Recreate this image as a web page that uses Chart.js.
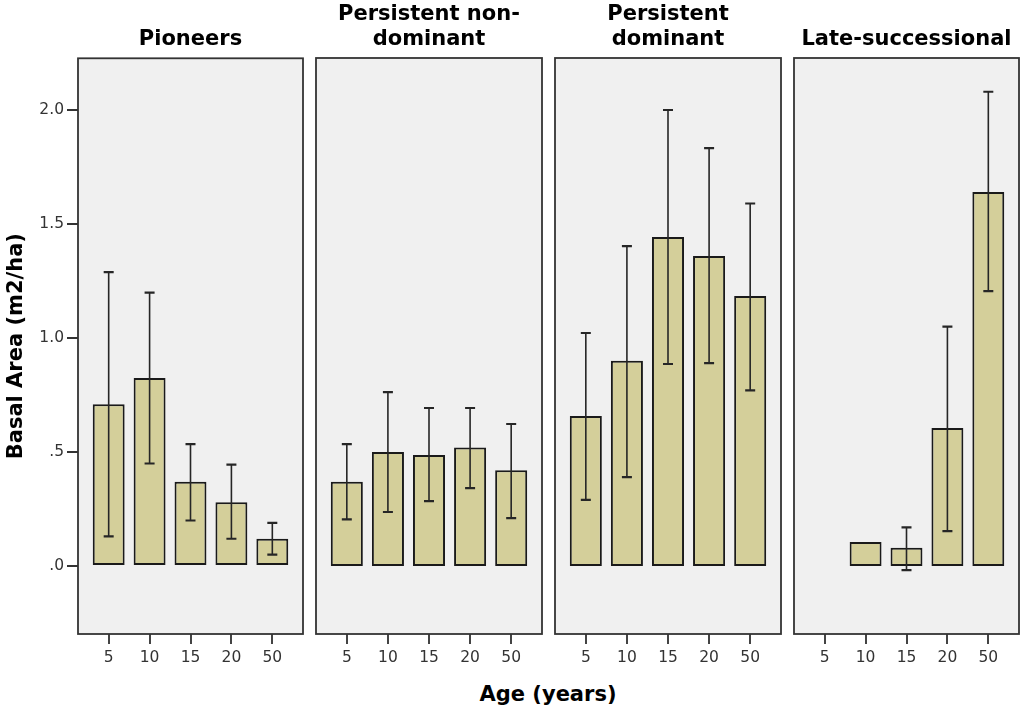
<!DOCTYPE html>
<html>
<head>
<meta charset="utf-8">
<script src="https://cdn.jsdelivr.net/npm/chart.js@4.4.1/dist/chart.umd.min.js"></script>
<style>
  body { margin: 0; background: #fff; width: 1024px; height: 707px; overflow: hidden; position: relative; }
  canvas { position: absolute; top: 46px; }
  .ptitle {
    position: absolute; top: 0; height: 51px;
    display: flex; align-items: flex-end; justify-content: center;
    text-align: center; font: bold 21px "DejaVu Sans", sans-serif; line-height: 25px; color: #000;
  }
  #xtitle {
    position: absolute; top: 682px; left: 448px; width: 200px; text-align: center;
    font: bold 21px "DejaVu Sans", sans-serif; line-height: 25px; color: #000;
  }
</style>
</head>
<body>
<div id="xtitle">Age (years)</div>
<script>
// ---- data ----
const ages = ['5', '10', '15', '20', '50'];
const panelTitles = [['Pioneers'], ['Persistent non-', 'dominant'], ['Persistent', 'dominant'], ['Late-successional']];

const pioneersMean = [0.71, 0.825, 0.37, 0.28, 0.12];
const pioneersLo   = [0.13, 0.45, 0.20, 0.12, 0.05];
const pioneersHi   = [1.29, 1.20, 0.535, 0.445, 0.19];

const nonDomMean = [0.37, 0.50, 0.487, 0.52, 0.42];
const nonDomLo   = [0.205, 0.237, 0.285, 0.342, 0.21];
const nonDomHi   = [0.535, 0.763, 0.693, 0.693, 0.623];

const domMean = [0.658, 0.90, 1.443, 1.36, 1.184];
const domLo   = [0.29, 0.39, 0.886, 0.89, 0.77];
const domHi   = [1.022, 1.403, 2.00, 1.833, 1.59];

const lateMean = [null, 0.105, 0.08, 0.605, 1.64];
const lateLo   = [null, null, -0.018, 0.153, 1.206];
const lateHi   = [null, null, 0.17, 1.05, 2.08];

const yTicks = [0, 0.5, 1.0, 1.5, 2.0];
const yTickLabels = ['.0', '.5', '1.0', '1.5', '2.0'];

// ---- layout (pixel frames of the four panels) ----
const frames = [[78, 303], [316, 542], [555, 781], [794, 1019]];
const series = [
  [pioneersMean, pioneersLo, pioneersHi],
  [nonDomMean, nonDomLo, nonDomHi],
  [domMean, domLo, domHi],
  [lateMean, lateLo, lateHi],
];

// grey panel with a dark frame
const panelFrame = {
  id: 'panelFrame',
  beforeDraw(chart) {
    const { ctx, chartArea: a } = chart;
    ctx.save();
    ctx.fillStyle = '#f0f0f0';
    ctx.fillRect(a.left, a.top, a.right - a.left, a.bottom - a.top);
    ctx.restore();
  },
  afterDraw(chart) {
    const { ctx, chartArea: a } = chart;
    ctx.save();
    ctx.strokeStyle = '#333';
    ctx.lineWidth = 1.8;
    ctx.strokeRect(a.left, a.top, a.right - a.left, a.bottom - a.top);
    ctx.restore();
  },
};

// whiskers drawn over the bars
const errorBars = {
  id: 'errorBars',
  afterDatasetsDraw(chart, args, opts) {
    const { ctx } = chart;
    const y = chart.scales.y;
    const meta = chart.getDatasetMeta(0);
    ctx.save();
    ctx.strokeStyle = '#262626';
    meta.data.forEach((bar, i) => {
      if (opts.lo[i] == null || opts.hi[i] == null) return;
      const x = bar.x;
      const y1 = y.getPixelForValue(opts.lo[i]);
      const y2 = y.getPixelForValue(opts.hi[i]);
      ctx.lineWidth = 1.6;
      ctx.beginPath();
      ctx.moveTo(x, y1); ctx.lineTo(x, y2);
      ctx.stroke();
      ctx.lineWidth = 2.2;
      ctx.beginPath();
      ctx.moveTo(x - 5, y1); ctx.lineTo(x + 5, y1);
      ctx.moveTo(x - 5, y2); ctx.lineTo(x + 5, y2);
      ctx.stroke();
    });
    ctx.restore();
  },
};

const tickFont = { family: '"DejaVu Sans", sans-serif', size: 15.5 };

series.forEach(([mean, lo, hi], p) => {
  const [left, right] = frames[p];
  const first = p === 0;
  const padL = first ? 0 : 6;
  const padR = 7;
  const cLeft = first ? 0 : left - padL;
  const width = right + padR - cLeft;

  const canvas = document.createElement('canvas');
  canvas.width = width;
  canvas.height = 628;
  canvas.style.left = cLeft + 'px';
  document.body.appendChild(canvas);

  const t = document.createElement('div');
  t.className = 'ptitle';
  t.style.left = (left - 10) + 'px';
  t.style.width = (right - left + 20) + 'px';
  t.innerHTML = panelTitles[p].join('<br>');
  document.body.appendChild(t);

  const yScale = {
    display: first,
    min: -0.298,
    max: 2.228,
    afterBuildTicks: s => { s.ticks = yTicks.map(v => ({ value: v })); },
    ticks: {
      color: '#333',
      font: tickFont,
      padding: 3,
      callback: v => yTickLabels[yTicks.indexOf(v)],
    },
    grid: { drawOnChartArea: false, drawTicks: true, tickLength: 11, color: '#333', lineWidth: 2 },
    border: { display: false },
    title: {
      display: true,
      text: 'Basal Area (m2/ha)',
      color: '#000',
      font: { family: '"DejaVu Sans", sans-serif', size: 21, weight: 'bold' },
      padding: { top: 4, bottom: 0 },
    },
  };
  if (first) yScale.afterFit = s => { s.width = 78; };

  new Chart(canvas.getContext('2d'), {
    type: 'bar',
    data: {
      datasets: [{
        data: ages.map((_, i) => ({ x: i, y: mean[i] })),
        backgroundColor: '#d4cf9a',
        borderColor: '#1a1a1a',
        borderWidth: 2,
        borderSkipped: false,
        categoryPercentage: 1,
        barPercentage: 0.78,
      }],
    },
    options: {
      responsive: false,
      animation: false,
      layout: { padding: { top: 12, bottom: 0, left: padL, right: padR } },
      plugins: {
        legend: { display: false },
        tooltip: { enabled: false },
        errorBars: { lo, hi },
      },
      scales: {
        x: {
          type: 'linear',
          offset: false,
          min: -0.75,
          max: 4.75,
          afterBuildTicks: s => { s.ticks = ages.map((_, i) => ({ value: i })); },
          afterFit: s => { s.height = 40; },
          ticks: {
            color: '#333',
            font: tickFont,
            padding: 5,
            maxRotation: 0,
            autoSkip: false,
            callback: v => ages[v],
          },
          grid: { offset: false, drawOnChartArea: false, drawTicks: true, tickLength: 10, color: '#444', lineWidth: 2 },
          border: { display: false },
        },
        y: yScale,
      },
    },
    plugins: [panelFrame, errorBars],
  });
});
</script>
</body>
</html>
